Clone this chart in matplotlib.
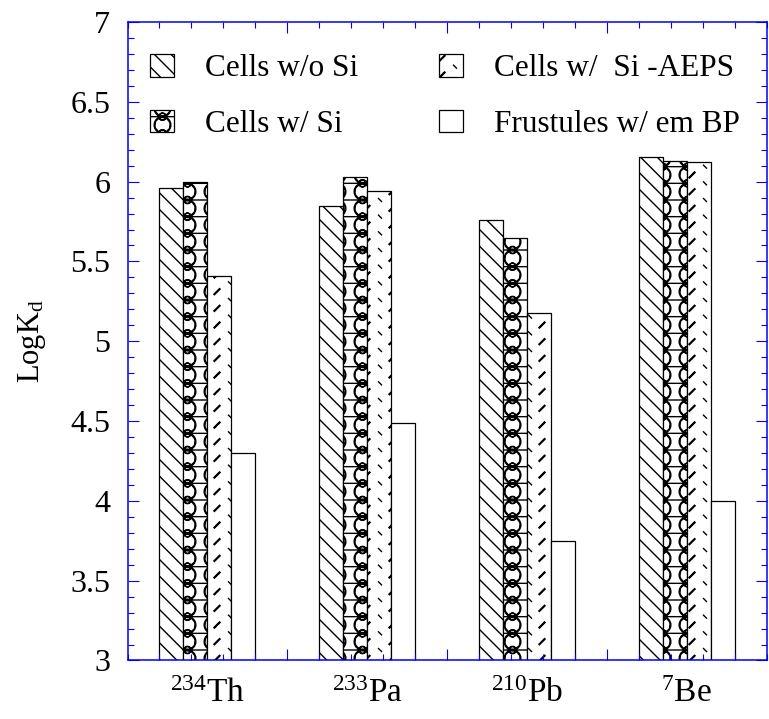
import matplotlib
matplotlib.use("Agg")
import matplotlib.hatch as mhatch
import matplotlib.pyplot as plt
import numpy as np
from matplotlib.path import Path
from matplotlib.ticker import FixedLocator, FuncFormatter, MultipleLocator

CATEGORIES = [r"$^{234}$Th", r"$^{233}$Pa", r"$^{210}$Pb", r"$^{7}$Be"]
SERIES = ["Cells w/o Si", "Cells w/ Si", "Cells w/  Si -AEPS", "Frustules w/ em BP"]
CELLS_NO_SI = [5.96, 5.85, 5.76, 6.155]
CELLS_SI = [6.00, 6.03, 5.645, 6.13]
CELLS_SI_AEPS = [5.41, 5.94, 5.18, 6.12]
FRUSTULES = [4.30, 4.49, 3.75, 4.00]

AXIS_BLUE = "#0000ff"
COLS, ROWS = 4, 6  # pattern repeats per hatch tile (one inch)


def _ring(cx, cy, r):
    # outer circle forward, inner backward: Agg fills hatch paths, so this
    # leaves only a thin outline instead of a solid disc
    circ = Path.unit_circle()
    verts = np.concatenate([circ.vertices * r, circ.vertices[::-1] * r * 0.9])
    codes = np.concatenate([circ.codes, circ.codes])
    return verts + (cx, cy), codes


def _segment(x0, y0, x1, y1):
    return np.array([[x0, y0], [x1, y1]]), np.array([Path.MOVETO, Path.LINETO])


def _dash(x0, y0, x1, y1, t=0.004):
    # short stroke with a little body, so it reads heavier than a hairline
    d = np.array([x1 - x0, y1 - y0])
    n = np.array([-d[1], d[0]]) / np.hypot(*d) * t
    p0, p1 = np.array([x0, y0]), np.array([x1, y1])
    verts = np.array([p0 + n, p1 + n, p1 - n, p0 - n, p0 + n])
    codes = np.array([Path.MOVETO] + [Path.LINETO] * 3 + [Path.CLOSEPOLY])
    return verts, codes


class _TiledHatch(mhatch.HatchPatternBase):
    key = ""

    def __init__(self, hatch, density):
        self.parts = []
        if hatch and self.key in hatch:
            w, h = 1.0 / COLS, 1.0 / ROWS
            for i in range(-1, COLS + 1):
                for j in range(-1, ROWS + 1):
                    self.parts.extend(self.cell(i * w, j * h, w, h))
        self.num_vertices = sum(len(v) for v, _ in self.parts)

    def set_vertices_and_codes(self, vertices, codes):
        if self.parts:
            vertices[:] = np.concatenate([v for v, _ in self.parts])
            codes[:] = np.concatenate([c for _, c in self.parts])


class ChainHatch(_TiledHatch):
    """Stacked rings joined by small beads and short links."""
    key = "O"

    def cell(self, x, y, w, h):
        rs = 0.22 * h
        cx = x + 0.5 * w
        return [
            _ring(cx, y + 0.5 * h, 0.5 * h),
            _ring(cx, y, rs),
            _segment(cx + rs, y, cx + w - rs, y),
        ]


class DashHatch(_TiledHatch):
    """Scattered short dashes."""
    key = "*"

    def cell(self, x, y, w, h):
        a, b = 0.17 * h, 0.09 * h
        cx, cy = x + 0.68 * w, y + 0.5 * h
        tx, ty = x + 0.2 * w, y
        return [
            _dash(cx - a, cy - a, cx + a, cy + a),
            _segment(tx - b, ty + b, tx + b, ty - b),
        ]


# swap the built-in large circles / stars for the two fills above
mhatch._hatch_types = [t for t in mhatch._hatch_types
                       if t not in (mhatch.LargeCircles, mhatch.Stars)]
mhatch._hatch_types += [ChainHatch, DashHatch]

plt.rcParams["font.family"] = ["Liberation Serif", "DejaVu Serif"]
plt.rcParams["mathtext.fontset"] = "custom"
plt.rcParams["mathtext.rm"] = "Liberation Serif"
plt.rcParams["mathtext.it"] = "Liberation Serif:italic"
plt.rcParams["hatch.linewidth"] = 1.0
plt.rcParams["hatch.color"] = "#222222"

fig = plt.figure(figsize=(7.69, 7.19), dpi=100)
ax = fig.add_axes([0.1658, 0.0814, 0.831, 0.888])

x = np.arange(1, len(CATEGORIES) + 1)
width = 0.15
series_vals = [CELLS_NO_SI, CELLS_SI, CELLS_SI_AEPS, FRUSTULES]
hatches = ["\\\\", "O", "*", None]
for k, (vals, label, hatch) in enumerate(zip(series_vals, SERIES, hatches)):
    offset = (k - 1.5) * width
    ax.bar(x + offset, vals, width, color="white", edgecolor="black",
           linewidth=0.9, hatch=hatch, label=label)

ax.set_xlim(0.5, 4.5)
ax.set_ylim(3, 7)

ax.yaxis.set_major_locator(MultipleLocator(0.5))
ax.yaxis.set_minor_locator(MultipleLocator(0.1))
ax.yaxis.set_major_formatter(FuncFormatter(lambda v, _: f"{v:g}"))
ax.xaxis.set_major_locator(FixedLocator([1.5, 2.5, 3.5]))
ax.xaxis.set_minor_locator(FixedLocator(np.arange(0.5, 4.51, 0.2)))

ax.tick_params(which="both", direction="in", top=True, right=True,
               color=AXIS_BLUE, width=0.8, labelbottom=False)
ax.tick_params(which="major", length=7.7)
ax.tick_params(which="minor", length=4.1)
ax.tick_params(axis="y", labelsize=23, pad=12.5)
for sp in ax.spines.values():
    sp.set_color(AXIS_BLUE)
    sp.set_linewidth(1.1)

# category names sit between the major ticks
sec = ax.secondary_xaxis("bottom")
sec.set_xticks(x, CATEGORIES)
sec.tick_params(length=0, labelsize=24, pad=13)
sec.spines["bottom"].set_visible(False)

ax.set_ylabel(r"LogK$_{\mathrm{d}}$", fontsize=22, labelpad=16)

ax.legend(loc="upper left", bbox_to_anchor=(0.016, 0.97), borderaxespad=0,
          ncol=2, frameon=False, fontsize=22.5, handlelength=0.75,
          handleheight=0.75, handletextpad=1.0, columnspacing=2.6,
          labelspacing=0.85)

fig.savefig("out.png", dpi=100)
